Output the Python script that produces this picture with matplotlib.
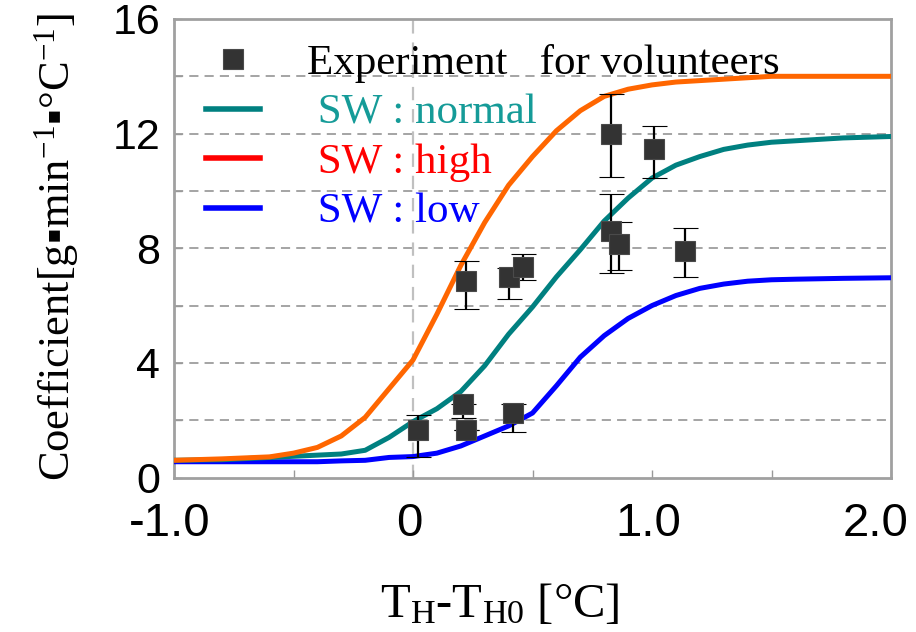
import matplotlib
matplotlib.use("Agg")
import matplotlib.pyplot as plt
from matplotlib.lines import Line2D
from matplotlib.transforms import ScaledTranslation

plt.rcParams['mathtext.fontset'] = 'custom'
plt.rcParams['mathtext.rm'] = 'Liberation Serif'
plt.rcParams['mathtext.it'] = 'Liberation Serif:italic'

# ---------------- data ----------------
curve_x = [-1.0, -0.8, -0.6, -0.5, -0.4, -0.3, -0.2, -0.1, 0.0, 0.1, 0.2, 0.3, 0.4, 0.5,
           0.6, 0.7, 0.8, 0.9, 1.0, 1.1, 1.2, 1.3, 1.4, 1.5, 1.6, 1.8, 2.0]
sw_high = [0.6, 0.65, 0.72, 0.85, 1.05, 1.45, 2.1, 3.1, 4.1, 5.7, 7.4, 8.9, 10.2, 11.2,
           12.1, 12.8, 13.3, 13.55, 13.7, 13.8, 13.85, 13.9, 13.95, 14.0, 14.0, 14.0, 14.0]
sw_normal = [0.6, 0.62, 0.7, 0.74, 0.78, 0.82, 0.95, 1.4, 1.95, 2.4, 3.0, 3.9, 5.0, 5.95,
             7.0, 7.95, 8.95, 9.75, 10.45, 10.9, 11.2, 11.45, 11.6, 11.7, 11.75, 11.85, 11.9]
sw_low = [0.55, 0.55, 0.55, 0.55, 0.55, 0.58, 0.6, 0.7, 0.73, 0.85, 1.1, 1.45, 1.8, 2.25,
          3.2, 4.2, 4.95, 5.55, 6.0, 6.35, 6.6, 6.75, 6.85, 6.9, 6.92, 6.95, 6.97]

exp_x = [0.02, 0.21, 0.22, 0.42, 0.22, 0.40, 0.46, 0.83, 1.01, 0.83, 0.86, 1.14]
exp_y = [1.65, 2.55, 1.65, 2.25, 6.85, 7.0, 7.35, 12.0, 11.45, 8.6, 8.15, 7.9]
err_lo = [0.92, 0.47, 0.0, 0.67, 0.98, 0.78, 0.45, 1.53, 1.0, 1.47, 0.9, 0.9]
err_hi = [0.53, 0.0, 0.0, 0.33, 0.7, 0.3, 0.45, 1.4, 0.83, 1.3, 0.78, 0.8]

xtick_vals = [-1.0, 0.0, 1.0, 2.0]
xtick_labels = ['-1.0', '0', '1.0', '2.0']
ytick_vals = [0, 4, 8, 12, 16]
ytick_labels = ['0', '4', '8', '12', '16']

legend_labels = ['Experiment   for volunteers', ' SW : normal', ' SW : high', ' SW : low']

# ---------------- figure ----------------
fig = plt.figure(figsize=(9.16, 6.32), dpi=100)
ax = fig.add_axes([174/916, 1-477.5/632, 717/916, 458.5/632])

c_high = '#FF6600'
c_norm = '#008080'
c_low = '#0000FF'

for gy in [2, 4, 6, 8, 10, 12, 14]:
    ax.axhline(gy, color='#8c8c8c', lw=1.1, ls=(0, (6, 4)), zorder=1)
ax.axvline(0, color='#c0c0c0', lw=1.6, ls=(0, (6, 4)), zorder=1)

ax.plot(curve_x, sw_low, color=c_low, lw=3.6, zorder=3, solid_joinstyle='round')
ax.plot(curve_x, sw_normal, color=c_norm, lw=3.6, zorder=3, solid_joinstyle='round')
ax.plot(curve_x, sw_high, color=c_high, lw=3.6, zorder=3, solid_joinstyle='round')

ax.errorbar(exp_x, exp_y, yerr=[err_lo, err_hi], fmt='s', ms=14, mfc='#333333',
            mec='#4a4a4a', mew=0.8, ecolor='black', elinewidth=1.6, capsize=9,
            capthick=1.6, zorder=5)

ax.set_xlim(-1.0, 2.0)
ax.set_ylim(0, 16)
ax.set_xticks(xtick_vals)
ax.set_xticklabels(xtick_labels)
ax.set_xticks([-0.5, 0.5, 1.5], minor=True)
ax.set_yticks(ytick_vals)
ax.set_yticklabels(ytick_labels)
ax.set_yticks([2, 6, 10, 14], minor=True)
ax.tick_params(axis='both', which='both', direction='in', length=6, width=1,
               color='#999999')
ax.tick_params(axis='x', which='major', labelsize=34, pad=18)
ax.tick_params(axis='y', which='major', labelsize=31, pad=10)
for lab in ax.get_xticklabels() + ax.get_yticklabels():
    lab.set_fontfamily('Liberation Sans')
xl = ax.get_xticklabels()
for i, lab in enumerate(xl):
    dx = -15 if i == len(xl) - 1 else -4
    lab.set_transform(lab.get_transform() + ScaledTranslation(dx / 100, 0, fig.dpi_scale_trans))

for s in ax.spines.values():
    s.set_color('#a0a0a0')
    s.set_linewidth(2)

ax.set_ylabel(r'Coefficient[g▪min$^{-1}$▪°C$^{-1}$]', fontsize=32, family='Liberation Serif')
ax.yaxis.set_label_coords(-0.13, 0.502)
ax.set_xlabel(r'T$_{\rm H}$-T$_{\rm H0}$ [°C]', fontsize=35, family='Liberation Serif')
ax.xaxis.set_label_coords(0.455, -0.228)

handles = [
    Line2D([], [], ls='none', marker='s', ms=14, mfc='#333333', mec='#4a4a4a', mew=0.8),
    Line2D([], [], color=c_norm, lw=4),
    Line2D([], [], color='#FF0000', lw=4),
    Line2D([], [], color=c_low, lw=4),
]
leg = ax.legend(handles, legend_labels, loc='upper left', bbox_to_anchor=(0.045, 0.945),
                frameon=False, handlelength=1.25, handletextpad=1.1, labelspacing=0.24,
                borderaxespad=0, borderpad=0,
                prop={'family': 'Liberation Serif', 'size': 31})
text_colors = ['black', '#159b98', '#FF0000', '#0000FF']
for t, c in zip(leg.get_texts(), text_colors):
    t.set_color(c)

fig.savefig('out.png', dpi=100)
